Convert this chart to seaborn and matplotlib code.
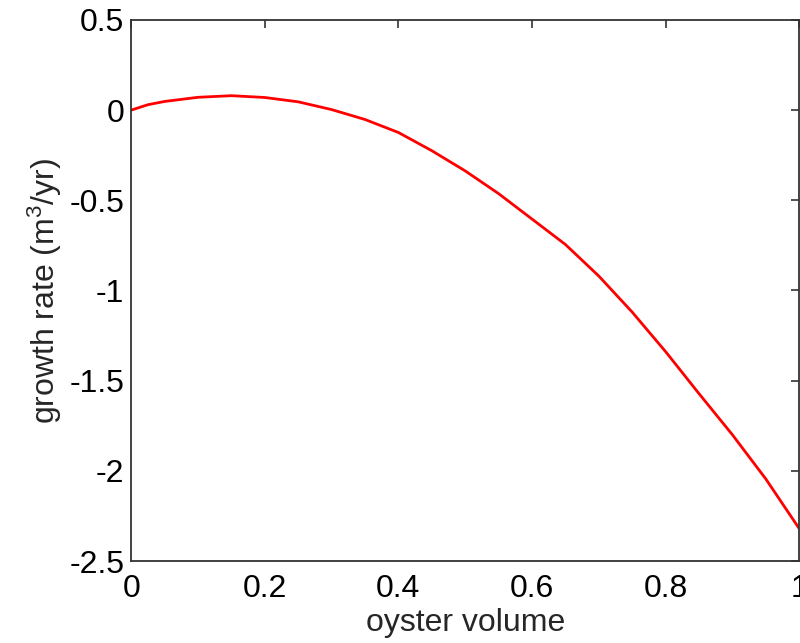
import matplotlib
matplotlib.use("Agg")
import matplotlib.pyplot as plt
import seaborn as sns
import pandas as pd

volume = [0.0, 0.025, 0.05, 0.10, 0.15, 0.20, 0.25, 0.30, 0.35, 0.40, 0.45,
          0.50, 0.55, 0.60, 0.65, 0.70, 0.75, 0.80, 0.85, 0.90, 0.95, 1.0]
growth = [0.0, 0.03, 0.048, 0.071, 0.08, 0.07, 0.046, 0.003, -0.052, -0.124, -0.225,
          -0.337, -0.463, -0.604, -0.745, -0.92, -1.12, -1.339, -1.572, -1.80, -2.045, -2.32]
xticks = [0, 0.2, 0.4, 0.6, 0.8, 1]
yticks = [0.5, 0, -0.5, -1, -1.5, -2, -2.5]
xticklabels = ["0", "0.2", "0.4", "0.6", "0.8", "1"]
yticklabels = ["0.5", "0", "-0.5", "-1", "-1.5", "-2", "-2.5"]

sns.set_style("white")
plt.rcParams["font.family"] = ["Liberation Sans", "DejaVu Sans"]
plt.rcParams["mathtext.fontset"] = "custom"
plt.rcParams["mathtext.rm"] = "Liberation Sans"
plt.rcParams["mathtext.it"] = "Liberation Sans"

df = pd.DataFrame({"volume": volume, "growth": growth})

fig = plt.figure(figsize=(8.0, 6.43), dpi=100)
ax = fig.add_axes([0.164, 0.1275, 0.835, 0.8415])
sns.lineplot(data=df, x="volume", y="growth", ax=ax, color="#ff0000", linewidth=2.0)

ax.set_xlim(0, 1)
ax.set_ylim(-2.5, 0.5)
ax.set_xticks(xticks)
ax.set_xticklabels(xticklabels)
ax.set_yticks(yticks)
ax.set_yticklabels(yticklabels)
ax.tick_params(direction="in", length=6, width=1.2, top=True, right=True,
               labelsize=23, colors="#333333", labelcolor="black")
ax.tick_params(axis="x", pad=9)
ax.tick_params(axis="y", pad=5)
for s in ax.spines.values():
    s.set_visible(True)
    s.set_color("#333333")
    s.set_linewidth(1.3)
ax.set_xlabel("oyster volume", fontsize=23, labelpad=3)
ax.set_ylabel(r"growth rate (m$^3$/yr)", fontsize=23, labelpad=4)
ax.grid(False)

fig.savefig("out.png", dpi=100)
